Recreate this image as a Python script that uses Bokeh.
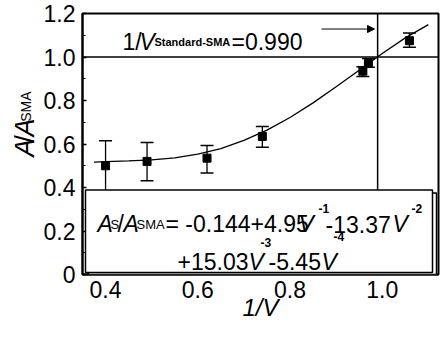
import math
from bokeh.plotting import figure
from bokeh.layouts import row
from bokeh.models import (ColumnDataSource, Whisker, TeeHead, Label, Arrow, NormalHead,
                          BoxAnnotation, Span, FixedTicker, CustomJSTickFormatter, Range1d)
from bokeh.embed import file_html
from bokeh.resources import INLINE

# ---- data ----
inv_v = [0.40, 0.49, 0.62, 0.74, 0.958, 0.970, 1.059]
ratio = [0.50, 0.52, 0.535, 0.635, 0.935, 0.970, 1.075]
err_hi = [0.615, 0.607, 0.593, 0.680, 0.955, 0.993, 1.110]
err_lo = [0.385, 0.431, 0.467, 0.585, 0.910, 0.953, 1.045]

fit_x = [0.375, 0.40, 0.45, 0.50, 0.55, 0.60, 0.65, 0.70, 0.75, 0.80, 0.85, 0.90, 0.95, 1.00, 1.05, 1.10]
fit_y = [0.517, 0.519, 0.522, 0.527, 0.536, 0.553, 0.579, 0.617, 0.664, 0.722, 0.789, 0.863, 0.939, 1.016, 1.088, 1.149]

v_standard = 0.990
ref_level = 1.0

x_ticks = [0.4, 0.6, 0.8, 1.0]
y_ticks = [0, 0.2, 0.4, 0.6, 0.8, 1.0, 1.2]
y_minor = [0.1, 0.3, 0.5, 0.7, 0.9, 1.1]
x_title = "1/V"

FONT = "Liberation Sans"

X0, X1 = 0.35, 1.122
Y0, Y1 = 0.0, 1.2

# page layout (figure origin at page 8,8)
TOTAL_W, TOTAL_H = 440, 326
YF_W = 40
MAIN_W = TOTAL_W - YF_W
MB_TOP, MB_BOTTOM = 13, 52
FRAME_H = TOTAL_H - MB_TOP - MB_BOTTOM

main = figure(width=MAIN_W, height=TOTAL_H, x_range=Range1d(X0, X1), y_range=Range1d(Y0, Y1),
              output_backend="svg", toolbar_location=None, title=None,
              min_border_left=42, min_border_right=2, min_border_top=MB_TOP, min_border_bottom=MB_BOTTOM)
p = main
p.xgrid.visible = False
p.ygrid.visible = False
p.outline_line_color = "black"
p.outline_line_width = 2
p.background_fill_color = "white"
p.border_fill_color = "white"

# reference-pixel -> data helpers (annotation placement only)
FL, FR, FT, FB = 90, 446, 16, 285
def px(rx):
    return X0 + (rx - FL) * (X1 - X0) / (FR - FL)
def py(ry):
    return Y0 + (FB - ry) * (Y1 - Y0) / (FB - FT)
def page_y(ry):
    return 8 + MB_TOP + (ry - FT) * FRAME_H / (FB - FT)

for ax in (p.xaxis[0], p.yaxis[0]):
    ax.axis_line_width = 2
    ax.major_tick_in = 4
    ax.major_tick_out = 0
    ax.minor_tick_in = 3
    ax.minor_tick_out = 0
    ax.major_tick_line_width = 1.5
    ax.major_label_text_font = FONT
    ax.major_label_text_font_size = "23px"
    ax.major_label_text_color = "black"

p.xaxis[0].ticker = FixedTicker(ticks=x_ticks, minor_ticks=[])
p.yaxis[0].ticker = FixedTicker(ticks=y_ticks, minor_ticks=y_minor)
p.xaxis[0].major_label_standoff = 6
p.yaxis[0].major_label_standoff = 7
fmt = CustomJSTickFormatter(code="return tick == 0 ? '0' : tick.toFixed(1);")
p.xaxis[0].formatter = fmt
p.yaxis[0].formatter = fmt

p.xaxis[0].axis_label = x_title
p.xaxis[0].axis_label_text_font = FONT
p.xaxis[0].axis_label_text_font_size = "24px"
p.xaxis[0].axis_label_text_font_style = "italic"
p.xaxis[0].axis_label_text_color = "black"
p.xaxis[0].axis_label_standoff = -7

# fit curve
p.line(fit_x, fit_y, line_color="black", line_width=1.3)

# vertical line at 1/V standard
p.segment(x0=[v_standard], y0=[Y0], x1=[v_standard], y1=[Y1], line_color="black", line_width=1.5)

# points with error bars
src = ColumnDataSource(dict(x=inv_v, y=ratio, hi=err_hi, lo=err_lo))
p.scatter("x", "y", source=src, marker="square", size=8, color="black")
p.add_layout(Whisker(source=src, base="x", upper="hi", lower="lo", line_width=1.3, line_color="black",
                     upper_head=TeeHead(size=13, line_width=1.5, line_color="black"),
                     lower_head=TeeHead(size=13, line_width=1.5, line_color="black")))

p.add_layout(Span(location=ref_level, dimension="width", line_color="black", line_width=1.5))

# equation box (with offset shadow)
p.add_layout(BoxAnnotation(left=px(96), right=px(444), top=py(201), bottom=py(285),
                           fill_color="white", fill_alpha=1, line_color="black", line_width=1.5, line_alpha=1))
p.add_layout(BoxAnnotation(left=px(93), right=px(440), top=py(198), bottom=py(283),
                           fill_color="white", fill_alpha=1, line_color="black", line_width=1.5, line_alpha=1))

def txt(s, rx, ry, size, style="normal"):
    p.add_layout(Label(x=px(rx), y=py(ry), text=s, text_font=FONT, text_font_size=f"{size}px",
                       text_font_style=style, text_baseline="alphabetic", text_align="left",
                       text_color="black"))

# top annotation
txt("1/", 130, 45, 23)
txt("V", 147, 45, 23, "italic")
txt("Standard-SMA", 162, 45, 11, "bold")
txt("=0.990", 239, 45, 23)
p.add_layout(Arrow(end=NormalHead(size=7, fill_color="black", line_color="black", line_width=1),
                   x_start=px(329), y_start=py(32), x_end=px(382), y_end=py(32),
                   line_color="black", line_width=1))

# equation line 1
txt("A", 105, 233, 23, "italic")
txt("S", 118, 233, 13)
txt("/", 125, 233, 23)
txt("A", 131, 233, 23, "italic")
txt("SMA", 144, 233, 13)
txt("= -0.144+4.95", 173, 233, 23)
txt("V", 306, 233, 23, "italic")
txt("-1", 326, 217, 12, "bold")
txt("-13.37", 333, 233, 23)
txt("V", 400, 233, 23, "italic")
txt("-2", 419, 217, 12, "bold")

# equation line 2
txt("+15.03", 185, 272, 23)
txt("V", 256, 272, 23, "italic")
txt("-3", 268, 252, 12, "bold")
txt("-5.45", 276, 272, 23)
txt("V", 329, 272, 23, "italic")
txt("-4", 341, 246, 12, "bold")

# ---- y axis title panel (rotated text inside its own frame) ----
yfig = figure(width=YF_W, height=TOTAL_H, x_range=Range1d(0, YF_W), y_range=Range1d(0, TOTAL_H),
              output_backend="svg", toolbar_location=None, title=None,
              x_axis_location=None, y_axis_location=None, min_border=0)
yfig.xgrid.visible = False
yfig.ygrid.visible = False
yfig.outline_line_color = None
yfig.border_fill_color = "white"

def ytxt(s, rx, ry, size, style="normal"):
    yfig.add_layout(Label(x=rx - 8, y=8 + TOTAL_H - page_y(ry), text=s, text_font=FONT,
                          text_font_size=f"{size}px", text_font_style=style,
                          text_baseline="alphabetic", text_align="left",
                          angle=math.pi / 2, text_color="black"))

ytxt("A", 32, 187, 27, "italic")
ytxt("/", 32, 169, 27)
ytxt("A", 32, 161, 27, "italic")
ytxt("SMA", 33, 142, 14)

layout = row(yfig, main, spacing=0)
open("out.html", "w").write(file_html(layout, INLINE))
